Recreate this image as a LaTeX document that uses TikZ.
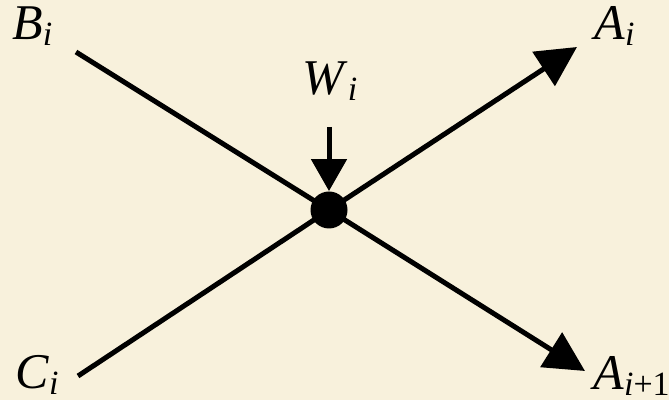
\documentclass[tikz,border=0pt]{standalone}
\usepackage{fontspec}
\setmainfont{Liberation Serif}
\usetikzlibrary{arrows.meta}
\definecolor{bg}{RGB}{248,241,220}
\newcommand{\lbl}[2]{\textit{#1}\raisebox{-0.11em}{\fontsize{17}{17}\selectfont #2}}
\begin{document}
\begin{tikzpicture}[x=0.5pt,y=-0.5pt,
  lab/.style={anchor=base west,inner sep=0pt,font=\fontsize{25}{25}\selectfont},
  conn/.style={line width=2.5pt},
  bigtip/.style={-{Triangle[length=20pt,width=20pt]}},
  smalltip/.style={-{Triangle[length=16pt,width=17.5pt]}}]
\fill[bg] (0,0) rectangle (669,400);
\useasboundingbox (0,0) rectangle (669,400);
\node[lab] (B) at (12,40) {\lbl{B}{\textit{i}}};
\node[lab] (C) at (15,389) {\lbl{C}{\textit{i}}};
\node[lab] (Ai) at (594,40) {\lbl{A}{\textit{i}}};
\node[lab] (Ai1) at (593,390) {\lbl{A}{\textit{i}+1}};
\node[lab] (W) at (302,95) {\lbl{W}{\textit{i}}};
\node[circle,fill=black,inner sep=0pt,minimum size=18.5pt] (dot) at (329,210) {};
\coordinate (bs) at (76,52);
\coordinate (cs) at (78,376);
\coordinate (ta) at (577,47);
\coordinate (tb) at (585,371);
\coordinate (ws) at (329,127);
\draw[conn,bigtip] (bs) -- (dot.center) -- (tb);
\draw[conn,bigtip] (cs) -- (dot.center) -- (ta);
\draw[conn,smalltip] (ws) -- (dot.north);
\end{tikzpicture}
\end{document}
